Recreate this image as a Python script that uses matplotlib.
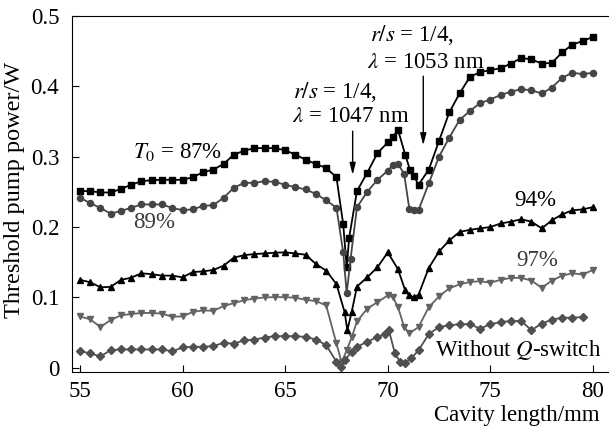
import numpy as np
import matplotlib.pyplot as plt

plt.rcParams['font.family'] = ['Liberation Serif', 'DejaVu Serif']
plt.rcParams['mathtext.fontset'] = 'stix'

# Cavity length (mm) and threshold pump power (W) for every curve
x87 = [55, 55.5, 56, 56.5, 57, 57.5, 58, 58.5, 59, 59.5, 60, 60.5, 61, 61.5, 62, 62.5, 63, 63.5, 64, 64.5,
       65, 65.5, 66, 66.5, 67, 67.5, 67.83, 68.0, 68.12, 68.5, 69, 69.5, 70, 70.25, 70.5, 70.85, 71.08,
       71.28, 71.5, 72, 72.5, 73, 73.5, 74, 74.5, 75, 75.5, 76, 76.5, 77, 77.5, 78, 78.5, 79, 79.5, 80]
y87 = [.251, .251, .249, .249, .254, .26, .265, .2665, .267, .267, .267, .2707, .2777, .2815, .2894, .3027,
       .3083, .312, .312, .312, .309, .3027, .2956, .2894, .2838, .2707, .204, .143, .185, .251, .277, .305,
       .32, .328, .338, .3027, .2815, .272, .26, .2815, .3224, .3628, .3896, .413, .42, .4226, .4255, .432,
       .44, .438, .432, .433, .448, .459, .464, .47]

x89 = [55, 55.5, 56, 56.5, 57, 57.5, 58, 58.5, 59, 59.5, 60, 60.5, 61, 61.5, 62, 62.5, 63, 63.5, 64, 64.5,
       65, 65.5, 66, 66.5, 67, 67.5, 67.83, 68.0, 68.19, 68.5, 69, 69.5, 70, 70.25, 70.5, 70.8, 71.05,
       71.28, 71.5, 72, 72.5, 73, 73.5, 74, 74.5, 75, 75.5, 76, 76.5, 77, 77.5, 78, 78.5, 79, 79.5, 80]
y89 = [.2415, .234, .227, .219, .2227, .2274, .232, .232, .232, .227, .224, .225, .23, .231, .2415, .2556,
       .2627, .2627, .265, .264, .26, .2566, .2533, .247, .2378, .2274, .164, .106, .155, .228, .25, .267,
       .28, .288, .29, .275, .226, .224, .224, .262, .30, .327, .352, .3647, .376, .381, .3875, .392, .3958,
       .394, .3896, .398, .412, .419, .417, .419]

x94 = [55, 55.5, 56, 56.5, 57, 57.5, 58, 58.5, 59, 59.5, 60, 60.5, 61, 61.5, 62, 62.5, 63, 63.5, 64, 64.5,
       65, 65.5, 66, 66.5, 67, 67.5, 67.9, 68.03, 68.24, 68.5, 69, 69.5, 70, 70.5, 70.85, 71.05, 71.28, 71.5,
       72, 72.5, 73, 73.5, 74, 74.5, 75, 75.5, 76, 76.5, 77, 77.5, 78, 78.5, 79, 79.5, 80]
y94 = [.125, .1216, .1145, .115, .125, .128, .1343, .133, .131, .131, .1286, .136, .137, .139, .145, .1565,
       .16, .1616, .1625, .1635, .164, .1625, .1606, .1475, .138, .119, .079, .0535, .079, .1155, .1286,
       .1428, .164, .14, .11, .103, .1, .104, .142, .1653, .181, .193, .196, .198, .2, .205, .2076, .211,
       .2076, .198, .2096, .218, .2237, .225, .2283]

x97 = [55, 55.5, 56, 56.5, 57, 57.5, 58, 58.5, 59, 59.5, 60, 60.5, 61, 61.5, 62, 62.5, 63, 63.5, 64, 64.5,
       65, 65.5, 66, 66.5, 67, 67.5, 67.75, 68.0, 68.25, 68.5, 69, 69.5, 70, 70.25, 70.5, 70.8, 71.05, 71.5,
       72, 72.5, 73, 73.5, 74, 74.5, 75, 75.5, 76, 76.5, 77, 77.5, 78, 78.5, 79, 79.5, 80]
y97 = [.073, .069, .058, .068, .0746, .0765, .078, .078, .077, .0725, .0732, .0793, .0817, .081, .0877, .092,
       .096, .0985, .1, .1005, .1004, .0996, .0967, .0948, .0887, .0347, .008, .025, .044, .066, .084,
       .0934, .1028, .1004, .0863, .058, .049, .058, .0863, .1015, .113, .1185, .122, .123, .121, .125,
       .1278, .1278, .124, .1137, .124, .131, .1343, .1325, .139]

xnq = [55, 55.5, 56, 56.5, 57, 57.5, 58, 58.5, 59, 59.5, 60, 60.5, 61, 61.5, 62, 62.5, 63, 63.5, 64, 64.5,
       65, 65.5, 66, 66.5, 67, 67.5, 67.7, 67.9, 68.25, 68.5, 69, 69.5, 69.85, 70.05, 70.35, 70.6, 70.85,
       71.15, 71.5, 72, 72.5, 73, 73.5, 74, 74.5, 75, 75.5, 76, 76.5, 77, 77.5, 78, 78.5, 79, 79.5]
ynq = [.024, .0206, .0163, .0252, .0262, .0262, .0262, .0262, .0262, .0235, .029, .03, .03, .031, .0355,
       .0345, .039, .0403, .0431, .045, .045, .045, .044, .0403, .0323, .0087, .001, .011, .023, .03, .037,
       .044, .0478, .054, .0206, .0087, .0073, .0135, .025, .048, .058, .0605, .062, .062, .0558, .062,
       .065, .0666, .0666, .0535, .0629, .0685, .0713, .0713, .0722]

fig = plt.figure(figsize=(6.09, 4.32), dpi=100)
ax = fig.add_axes([0.1177, 0.1396, 0.8823, 0.8241])

ax.plot(x87, y87, color='black', marker='s', ms=3.9, lw=1.3)
ax.plot(x89, y89, color='#454545', marker='o', ms=4.4, lw=1.3)
ax.plot(x94, y94, color='black', marker='^', ms=4.8, lw=1.3)
ax.plot(x97, y97, color='#636363', marker='v', ms=4.8, lw=1.3)
ax.plot(xnq, ynq, color='#505050', marker='D', ms=3.8, lw=1.3)

ax.set_xlim(54.6, 80.78)
ax.set_ylim(-0.0054, 0.4968)
ax.set_xticks([55, 60, 65, 70, 75, 80])
ax.set_yticks([0, 0.1, 0.2, 0.3, 0.4, 0.5])
ax.set_yticklabels(['0', '0.1', '0.2', '0.3', '0.4', '0.5'])
ax.tick_params(direction='in', length=5, labelsize=16.5, top=False, right=False)
ax.tick_params(axis='y', pad=9)
ax.tick_params(axis='x', pad=7)
ax.spines['right'].set_visible(False)

fs = 16.5
ax.text(57.58, 0.307, r'$T_0$ = 87%', fontsize=fs, ha='left', va='center')
ax.text(58.6, 0.206, '89%', fontsize=fs, ha='center', va='center', color='#3a3a3a')
ax.text(65.38, 0.392, r'$r/s$ = 1/4,', fontsize=fs, ha='left', va='center')
ax.text(65.33, 0.357, r'$\lambda$ = 1047 nm', fontsize=fs, ha='left', va='center')
ax.text(69.13, 0.472, r'$r/s$ = 1/4,', fontsize=fs, ha='left', va='center')
ax.text(68.99, 0.434, r'$\lambda$ = 1053 nm', fontsize=fs, ha='left', va='center')
ax.text(77.17, 0.237, '94%', fontsize=fs, ha='center', va='center')
ax.text(77.27, 0.152, '97%', fontsize=fs, ha='center', va='center', color='#3a3a3a')
ax.text(80.42, 0.025, r'Without $Q$-switch', fontsize=fs, ha='right', va='center')

arrow = dict(arrowstyle='-|>,head_width=0.18,head_length=0.7', color='black', lw=1.0)
ax.annotate('', xy=(68.29, 0.27), xytext=(68.29, 0.34), arrowprops=arrow)
ax.annotate('', xy=(71.73, 0.312), xytext=(71.73, 0.418), arrowprops=arrow)

fig.text(600 / 609, 1 - 415 / 432, 'Cavity length/mm', fontsize=fs, ha='right', va='center')
fig.text(15 / 609, 1 - 190 / 432, 'Threshold pump power/W', fontsize=17.5, rotation=90,
         ha='center', va='center')

fig.savefig('out.png', dpi=100)
